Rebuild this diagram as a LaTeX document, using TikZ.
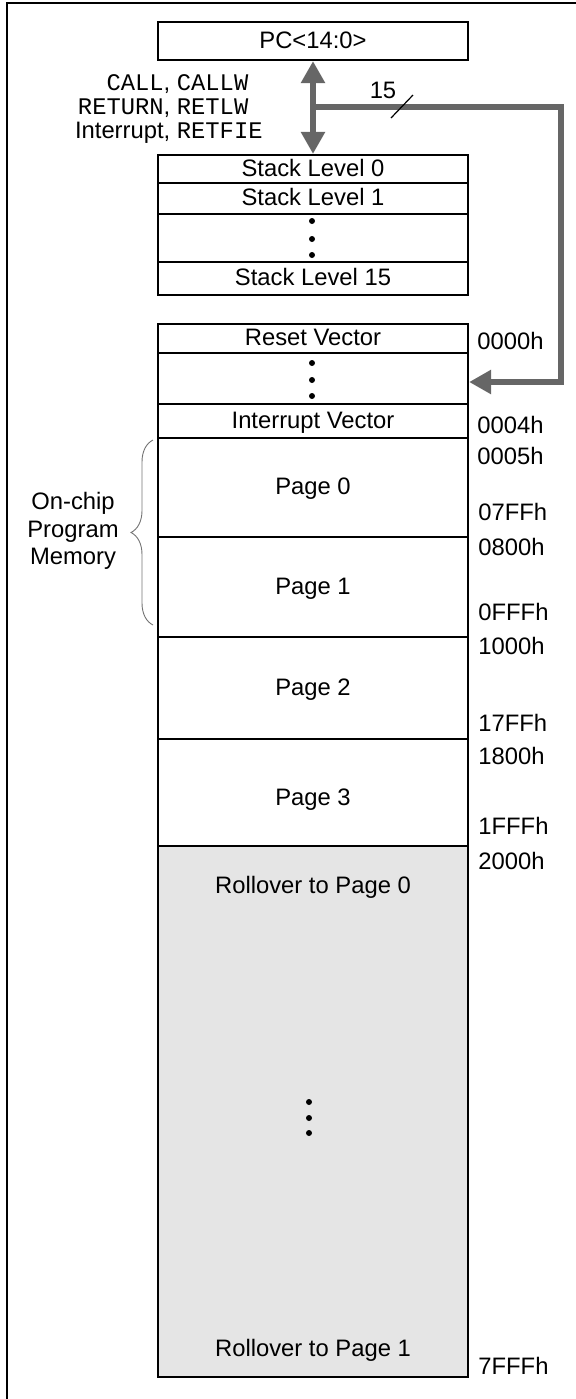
\documentclass[tikz,border=0pt]{standalone}
\usepackage{fontspec}
\setmainfont{Liberation Sans}
\setmonofont{Liberation Mono}
\usetikzlibrary{arrows.meta,calc,decorations.pathreplacing}

\begin{document}
\begin{tikzpicture}[x=0.5pt,y=-0.5pt,
    font=\fontsize{11.9}{14}\selectfont,
    cell/.style={draw,line width=1.1pt,minimum width=155pt,inner sep=0pt,text height=0.72em,text depth=0pt},
    addr/.style={anchor=west,inner sep=0pt,text height=0.72em,text depth=0pt},
    txt/.style={inner sep=0pt,text height=0.72em,text depth=0pt},
    bus/.style={draw=black!60,line width=3pt},
    bustip/.tip={Triangle[width=11.5pt,length=11pt]}]
  \useasboundingbox (0,0) rectangle (576,1399);
  \draw [line width=1pt] (7,1405) -- (7,3) -- (580,3);
  % program counter and stack
  \node [cell,minimum height=19pt] (pc) at (313,41) {PC<14:0>};
  \node [cell,minimum height=14pt] (stk0) at (313,169) {Stack Level 0};
  \node [cell,minimum height=15.5pt] (stk1) at (313,198.5) {Stack Level 1};
  \node [cell,minimum height=24pt] (sdots) at (313,238) {};
  \node [cell,minimum height=16.5pt] (stk15) at (313,278.5) {Stack Level 15};
  \foreach \dy in {-17,1,17} \fill ($(sdots)+(-1,\dy)$) circle [radius=1.5pt];
  \node [anchor=east,inner sep=0pt] (ops) at (263,109.6) {\fontsize{11.9}{12}\selectfont
    \begin{tabular}{@{}r@{, }l@{}}
      \texttt{CALL} & \texttt{CALLW}\\
      \texttt{RETURN} & \texttt{RETLW}\\
      Interrupt & \texttt{RETFIE}
    \end{tabular}};
  % program memory
  \node [cell,minimum height=14.5pt] (reset) at (313,338.5) {Reset Vector};
  \node [cell,minimum height=25.5pt] (vdots) at (313,378.5) {};
  \node [cell,minimum height=17pt] (intv) at (313,421) {Interrupt Vector};
  \node [cell,minimum height=49.5pt] (page0) at (313,487.5) {Page 0};
  \node [cell,minimum height=50pt] (page1) at (313,587) {Page 1};
  \node [cell,minimum height=51pt] (page2) at (313,688) {Page 2};
  \node [cell,minimum height=53.5pt,text height=12.9pt] (page3) at (313,792.5) {Page 3};
  \node [cell,minimum height=265.5pt,fill=black!10] (roll) at (313,1111.5) {};
  \node [txt] (roll0) at ($(roll.north)+(0,41)$) {Rollover to Page 0};
  \node [txt] (roll1) at ($(roll.south)+(0,-29)$) {Rollover to Page 1};
  \foreach \dy in {-9.5,6.5,21.5} \fill ($(roll)+(-4,\dy)$) circle [radius=1.5pt];
  \foreach \dy in {-15.5,1.5,17.5} \fill ($(vdots)+(-1,\dy)$) circle [radius=1.5pt];
  % addresses
  \node [addr] (a0000) at (477,342) {0000h};
  \node [addr] (a0004) at (477,426) {0004h};
  \node [addr] (a0005) at (477,457) {0005h};
  \node [addr] (a07ff) at (478,513) {07FFh};
  \node [addr] (a0800) at (478,548) {0800h};
  \node [addr] (a0fff) at (478,613) {0FFFh};
  \node [addr] (a1000) at (478,647) {1000h};
  \node [addr] (a17ff) at (478,724) {17FFh};
  \node [addr] (a1800) at (478,757) {1800h};
  \node [addr] (a1fff) at (478,827) {1FFFh};
  \node [addr] (a2000) at (478,862) {2000h};
  \node [addr] (a7fff) at (478,1367) {7FFFh};
  % on-chip brace
  \draw [decorate,decoration={brace,amplitude=11pt},draw=black!55,line width=0.45pt] (153,625) -- (153,440);
  \node [align=center,inner sep=0pt,font=\fontsize{11.9}{13.75}\selectfont] (onchip) at (73,531) {On-chip\\Program\\Memory};
  % bus to stack and vectors
  \coordinate (br) at (313,107);
  \coordinate (turn) at (561,382);
  \draw [bus,{bustip}-{bustip}] (pc.south) -- (stk0.north);
  \draw [bus,-{bustip}] (br) -| (turn) -- (vdots.east |- turn);
  \draw [line width=0.6pt] (391,118) -- (413,95);
  \node [txt] (width) at (383,91) {15};
\end{tikzpicture}
\end{document}
